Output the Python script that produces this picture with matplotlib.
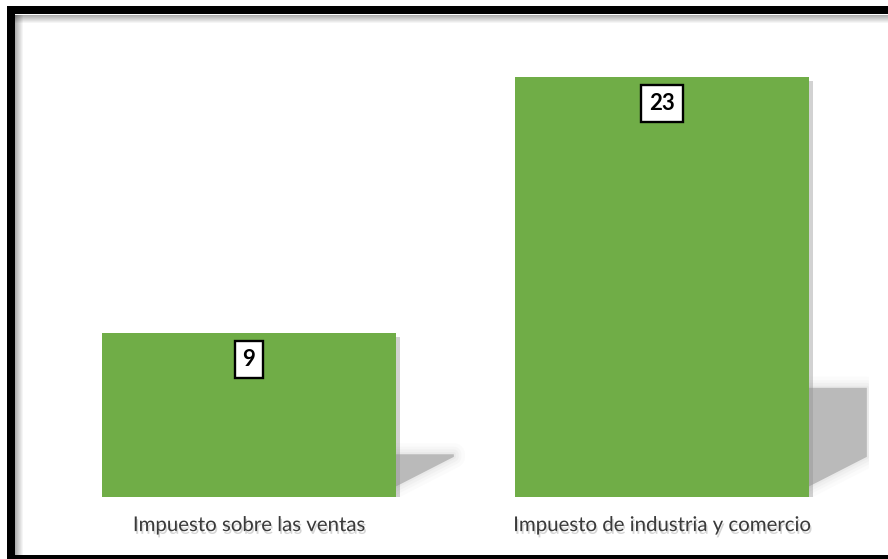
import matplotlib
matplotlib.use("Agg")
import matplotlib.pyplot as plt
import matplotlib.patheffects as pe
from matplotlib.patches import Polygon, Rectangle

categories = ["Impuesto sobre las ventas", "Impuesto de industria y comercio"]
values = [9, 23]

BAR_COLOR = "#70AD47"
W, H = 888, 559


def fx(x):
    return x / W


def fy(y):
    return 1 - y / H


fig = plt.figure(figsize=(W / 100, H / 100), dpi=100)
fig.patch.set_facecolor("white")

# axes placed so bars land where the reference has them
ax = fig.add_axes([fx(42.5), fy(497), 826 / W, (497 - 40.5) / H])
ax.set_xlim(-0.5, 1.5)
ax.set_ylim(0, 25)
ax.axis("off")

xs = list(range(len(values)))
bar_w = 0.712

# perspective shadows behind the bars
dx = 0.14
rise = 2.2
for x, v in zip(xs, values):
    xr = x + bar_w / 2
    top = 0.26 * v
    pts = [(xr - 0.05, 0), (xr + dx, rise), (xr + dx, top), (xr - 0.05, top)]
    for lw, a in [(16, 0.04), (11, 0.05), (7, 0.07), (3, 0.09)]:
        ax.add_patch(Polygon(pts, closed=True, fc="none", ec="#a8a8a8",
                             lw=lw, alpha=a, joinstyle="round", zorder=1))
    ax.add_patch(Polygon(pts, closed=True, fc="#bababa", ec="none", zorder=1.5))

bars = ax.bar(xs, values, width=bar_w, color=BAR_COLOR, zorder=3)
for b in bars:
    b.set_path_effects([
        pe.SimplePatchShadow(offset=(3, -3), shadow_rgbFace="#909090", alpha=0.4),
        pe.Normal(),
    ])

for x, v in zip(xs, values):
    ax.annotate(str(v), (x, v), xytext=(0, -19), textcoords="offset points",
                ha="center", va="center", fontsize=16, fontweight="bold",
                family="Lato", color="black", zorder=5,
                bbox=dict(boxstyle="square,pad=0.36", fc="white", ec="black", lw=1.7))

for x, c in zip(xs, categories):
    ax.text(x, -1.1, c, ha="center", va="top", fontsize=14.7, family="Lato",
            color="#3a3a3a", zorder=5,
            path_effects=[pe.SimplePatchShadow(offset=(1, -2), shadow_rgbFace="#888888",
                                               alpha=0.35), pe.Normal()])

# frame: thick black border with a soft inner shadow on top and left
for i in range(8):
    a = 0.32 * (1 - i / 8)
    fig.add_artist(Rectangle((fx(15), fy(15 + i + 1)), 1, 1 / H, transform=fig.transFigure,
                             fc="black", ec="none", alpha=a, zorder=9))
    fig.add_artist(Rectangle((fx(15 + i), 0), 1 / W, fy(15), transform=fig.transFigure,
                             fc="black", ec="none", alpha=a, zorder=9))
fig.add_artist(Rectangle((fx(7), fy(14)), 1, 8 / H, transform=fig.transFigure,
                         fc="black", ec="none", zorder=10))
fig.add_artist(Rectangle((fx(7), 0), 8 / W, fy(6), transform=fig.transFigure,
                         fc="black", ec="none", zorder=10))
fig.add_artist(Rectangle((fx(7), 0), 1, 4 / H, transform=fig.transFigure,
                         fc="black", ec="none", zorder=10))

fig.savefig("out.png", dpi=100)
